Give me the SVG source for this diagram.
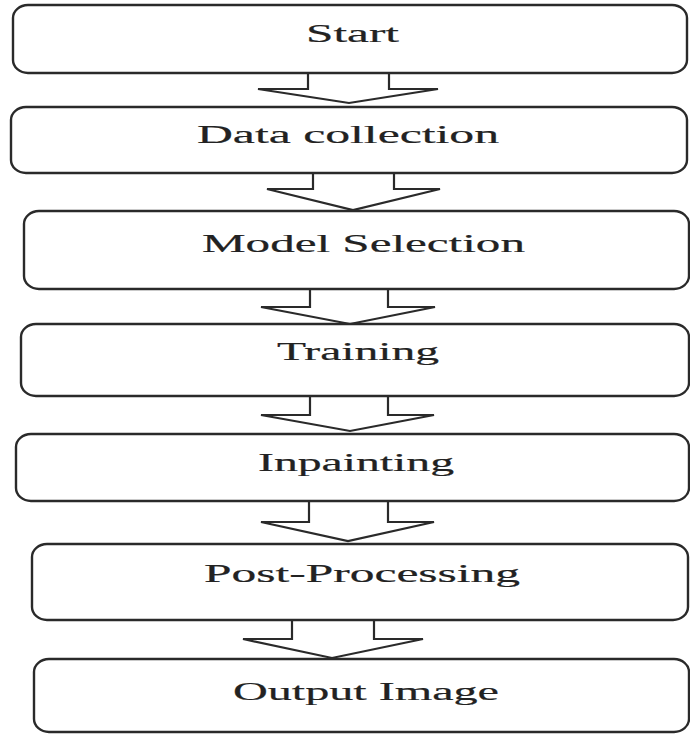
<svg xmlns="http://www.w3.org/2000/svg" width="690" height="735" viewBox="0 0 690 735">
  <style>
    .box { fill: #ffffff; stroke: #2a2a2a; stroke-width: 2.4; }
    .arrow { fill: #ffffff; stroke: #2a2a2a; stroke-width: 2.2; stroke-linejoin: miter; }
    .label { font-family: "Liberation Serif", "Times New Roman", serif; font-size: 25px; fill: #222222; stroke: #222222; stroke-width: 0.2; }
  </style>
  <rect x="0" y="0" width="690" height="735" fill="#ffffff"/>
  <g id="connectors">
    <path class="arrow" d="M308,73 L389,73 L389,89 L438,89 L349,103 L258,89 L308,89 Z"/>
    <path class="arrow" d="M313,173 L394,173 L394,189 L440,189 L353,210 L267,189 L313,189 Z"/>
    <path class="arrow" d="M310,289 L388,289 L388,307 L435,307 L350,324 L261,307 L310,307 Z"/>
    <path class="arrow" d="M310,396 L388,396 L388,415 L434,415 L350,431 L261,415 L310,415 Z"/>
    <path class="arrow" d="M309,501 L388,501 L388,522 L434,522 L348,541 L261,522 L309,522 Z"/>
    <path class="arrow" d="M292,620 L374,620 L374,639 L423,639 L332,658 L243,639 L292,639 Z"/>
  </g>
  <g id="start">
    <rect class="box" x="13" y="5" width="674" height="68" rx="15" ry="13"/>
    <text class="label" transform="translate(306,42) scale(1.95,1)" x="0" y="0" textLength="47.7" lengthAdjust="spacingAndGlyphs">Start</text>
  </g>
  <g id="data-collection">
    <rect class="box" x="11" y="107" width="676" height="66" rx="15" ry="13"/>
    <text class="label" transform="translate(197,143) scale(1.95,1)" x="0" y="0" textLength="154.9" lengthAdjust="spacingAndGlyphs">Data collection</text>
  </g>
  <g id="model-selection">
    <rect class="box" x="24" y="211" width="665" height="78" rx="15" ry="13"/>
    <text class="label" transform="translate(202,252) scale(1.95,1)" x="0" y="0" textLength="165.6" lengthAdjust="spacingAndGlyphs">Model Selection</text>
  </g>
  <g id="training">
    <rect class="box" x="21" y="324" width="668" height="72" rx="15" ry="13"/>
    <text class="label" transform="translate(277,360) scale(1.95,1)" x="0" y="0" textLength="83.1" lengthAdjust="spacingAndGlyphs">Training</text>
  </g>
  <g id="inpainting">
    <rect class="box" x="16" y="434" width="673" height="67" rx="15" ry="13"/>
    <text class="label" transform="translate(258,471) scale(1.95,1)" x="0" y="0" textLength="100.5" lengthAdjust="spacingAndGlyphs">Inpainting</text>
  </g>
  <g id="post-processing">
    <rect class="box" x="32" y="544" width="656" height="76" rx="15" ry="13"/>
    <text class="label" transform="translate(204,582) scale(1.95,1)" x="0" y="0" textLength="162.1" lengthAdjust="spacingAndGlyphs">Post-Processing</text>
  </g>
  <g id="output-image">
    <rect class="box" x="34" y="659" width="655" height="73" rx="15" ry="13"/>
    <text class="label" transform="translate(233,700) scale(1.95,1)" x="0" y="0" textLength="136.4" lengthAdjust="spacingAndGlyphs">Output Image</text>
  </g>
</svg>
